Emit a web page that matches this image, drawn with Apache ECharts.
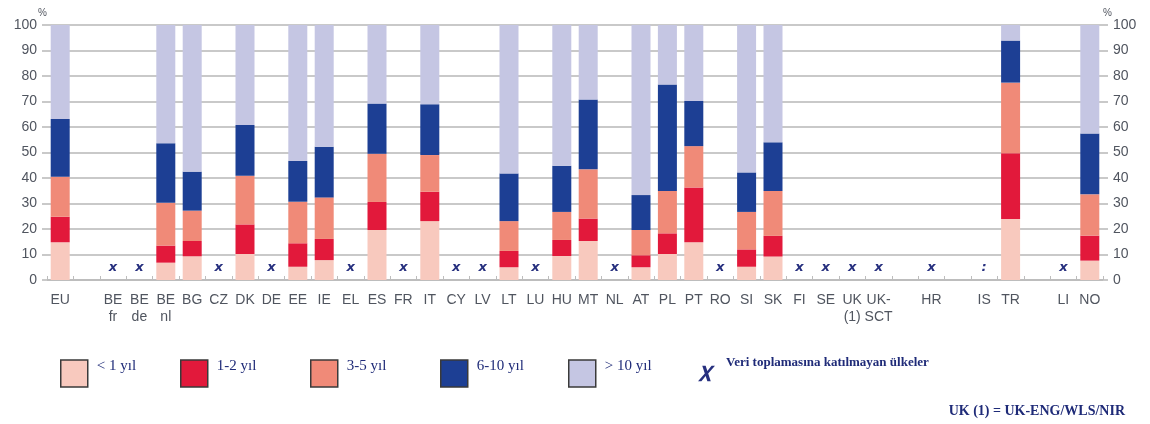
<!DOCTYPE html>
<html>
<head>
<meta charset="utf-8">
<script src="https://cdn.jsdelivr.net/npm/echarts@6/dist/echarts.min.js"></script>
<style>
  html, body { margin: 0; padding: 0; background: #ffffff; }
  #chart { width: 1150px; height: 424px; }
</style>
</head>
<body>
<div id="chart"></div>
<script>
// Country codes along the x axis (blank entries are spacer columns)
const categories = ['EU', '', 'BE\nfr', 'BE\nde', 'BE\nnl', 'BG', 'CZ', 'DK', 'DE', 'EE', 'IE', 'EL', 'ES', 'FR', 'IT', 'CY', 'LV', 'LT', 'LU', 'HU', 'MT', 'NL', 'AT', 'PL', 'PT', 'RO', 'SI', 'SK', 'FI', 'SE', 'UK\n(1)', 'UK-\nSCT', '', 'HR', '', 'IS', 'TR', '', 'LI', 'NO'];

// Share of teachers (%) by years of experience
const lessThan1 = [14.8, null, null, null, 6.8, 9.3, null, 10.2, null, 5.2, 7.8, null, 19.6, null, 23.1, null, null, 5.0, null, 9.4, 15.3, null, 5.0, 10.2, 14.8, null, 5.2, 9.2, null, null, null, null, null, null, null, null, 23.9, null, null, 7.6];
const years1to2 = [10.0, null, null, null, 6.7, 6.0, null, 11.6, null, 9.2, 8.3, null, 11.0, null, 11.5, null, null, 6.4, null, 6.3, 8.8, null, 4.7, 8.1, 21.5, null, 6.8, 8.1, null, null, null, null, null, null, null, null, 25.8, null, null, 9.8];
const years3to5 = [15.7, null, null, null, 16.8, 11.9, null, 19.1, null, 16.3, 16.3, null, 18.9, null, 14.4, null, null, 11.7, null, 11.0, 19.3, null, 9.9, 16.6, 16.2, null, 14.7, 17.6, null, null, null, null, null, null, null, null, 27.7, null, null, 16.2];
const years6to10 = [22.6, null, null, null, 23.3, 15.3, null, 19.9, null, 16.0, 19.9, null, 19.7, null, 19.9, null, null, 18.7, null, 18.1, 27.4, null, 13.7, 41.8, 17.7, null, 15.5, 19.1, null, null, null, null, null, null, null, null, 16.5, null, null, 23.9];
const moreThan10 = [36.9, null, null, null, 46.4, 57.5, null, 39.2, null, 53.3, 47.7, null, 30.8, null, 31.1, null, null, 58.2, null, 55.2, 29.2, null, 66.7, 23.3, 29.8, null, 57.8, 46.0, null, null, null, null, null, null, null, null, 6.1, null, null, 42.5];

// Countries not taking part ('x') or with data not available (':')
const notParticipating = [null, null, 'x', 'x', null, null, 'x', null, 'x', null, null, 'x', null, 'x', null, 'x', 'x', null, 'x', null, null, 'x', null, null, null, 'x', null, null, 'x', 'x', 'x', 'x', null, 'x', null, ':', null, null, 'x', null];

const yTicks = [0, 10, 20, 30, 40, 50, 60, 70, 80, 90, 100];

const seriesNames = ['< 1 yıl', '1-2 yıl', '3-5 yıl', '6-10 yıl', '> 10 yıl'];
const seriesColors = ['#f8c9be', '#e2193b', '#f08a78', '#1d3f94', '#c5c6e3'];
const seriesValues = [lessThan1, years1to2, years3to5, years6to10, moreThan10];
const markName = 'Veri toplamasına katılmayan ülkeler';
const markColor = '#27307f';
const markLevel = 4.7;

const axisFont = "'Liberation Sans', Arial, sans-serif";
const legendFont = "'Liberation Serif', 'Times New Roman', serif";
const gridColor = '#c9c9c9';
const legendTextColor = '#1f2b78';

const barSeries = seriesNames.map((name, i) => ({
  name: name,
  type: 'bar',
  stack: 'exp',
  barWidth: 19,
  itemStyle: { color: seriesColors[i] },
  emphasis: { disabled: true },
  data: seriesValues[i]
}));

const markSeries = {
  name: markName,
  type: 'scatter',
  symbol: 'circle',
  symbolSize: 0,
  itemStyle: { color: markColor, opacity: 1 },
  emphasis: { disabled: true },
  data: notParticipating.map((m, i) => m ? { value: [i, markLevel], mark: m } : null).filter(Boolean),
  label: {
    show: true,
    position: 'inside',
    formatter: p => p.data.mark,
    fontFamily: "'DejaVu Sans', sans-serif",
    fontStyle: 'italic',
    fontWeight: 'bold',
    fontSize: 13,
    color: markColor
  }
};

// Legend boxes: one component per entry so each sits at its own spot
const legendPos = [55, 175, 305, 435, 563];
const legends = seriesNames.map((name, i) => ({
  data: [{ name: name, icon: 'rect' }],
  left: legendPos[i],
  top: 354,
  itemWidth: 27,
  itemHeight: 27,
  selectedMode: false,
  itemStyle: { borderColor: '#3a3a3a', borderWidth: 1.5 },
  formatter: n => '{t|' + n + '}',
  textStyle: {
    rich: { t: { fontFamily: legendFont, fontSize: 15, color: legendTextColor, padding: [0, 0, 14, 4] } }
  }
}));
legends.push({
  data: [{ name: markName, icon: 'path://M4,0 L8,0 L10,6 L15,0 L19,0 L11,9 L14,18 L10,18 L8,12 L3,18 L-1,18 L7,9 Z' }],
  left: 693,
  top: 351,
  itemWidth: 17,
  itemHeight: 18,
  selectedMode: false,
  itemStyle: { color: markColor, opacity: 1 },
  formatter: n => '{t|' + n + '}',
  textStyle: {
    rich: { t: { fontFamily: legendFont, fontSize: 13, fontWeight: 'bold', color: legendTextColor, padding: [0, 0, 22, 6] } }
  }
});

const yAxisCommon = {
  type: 'value',
  min: yTicks[0],
  max: yTicks[yTicks.length - 1],
  interval: yTicks[1] - yTicks[0],
  name: '%',
  nameGap: 4,
  axisLine: { show: false },
  axisTick: { show: true, length: 5, lineStyle: { color: gridColor, width: 2 } },
  splitLine: { show: true, lineStyle: { color: gridColor, width: 2 } },
  axisLabel: { fontFamily: axisFont, fontSize: 14, color: '#50555f', margin: 10 }
};

const option = {
  animation: false,
  backgroundColor: '#ffffff',
  title: {
    text: 'UK (1) = UK-ENG/WLS/NIR',
    right: 20,
    top: 399,
    textStyle: { fontFamily: legendFont, fontSize: 14, fontWeight: 'bold', color: legendTextColor }
  },
  legend: legends,
  grid: { left: 47, right: 47, top: 25, bottom: 144 },
  xAxis: {
    type: 'category',
    data: categories,
    axisLine: { lineStyle: { color: '#bdbdbd', width: 2 } },
    axisTick: { show: true, inside: true, length: 4, lineStyle: { color: '#bdbdbd' } },
    axisLabel: { interval: 0, fontFamily: axisFont, fontSize: 14, color: '#50555f', margin: 12, lineHeight: 17, verticalAlign: 'top' }
  },
  yAxis: [
    Object.assign({}, yAxisCommon, { position: 'left', nameTextStyle: { fontFamily: axisFont, fontSize: 10, color: '#50555f', align: 'right' } }),
    Object.assign({}, yAxisCommon, { position: 'right', nameTextStyle: { fontFamily: axisFont, fontSize: 10, color: '#50555f', align: 'left' } })
  ],
  series: barSeries.concat([markSeries])
};

const chart = echarts.init(document.getElementById('chart'), null, { renderer: 'canvas' });
chart.setOption(option);
</script>
</body>
</html>
